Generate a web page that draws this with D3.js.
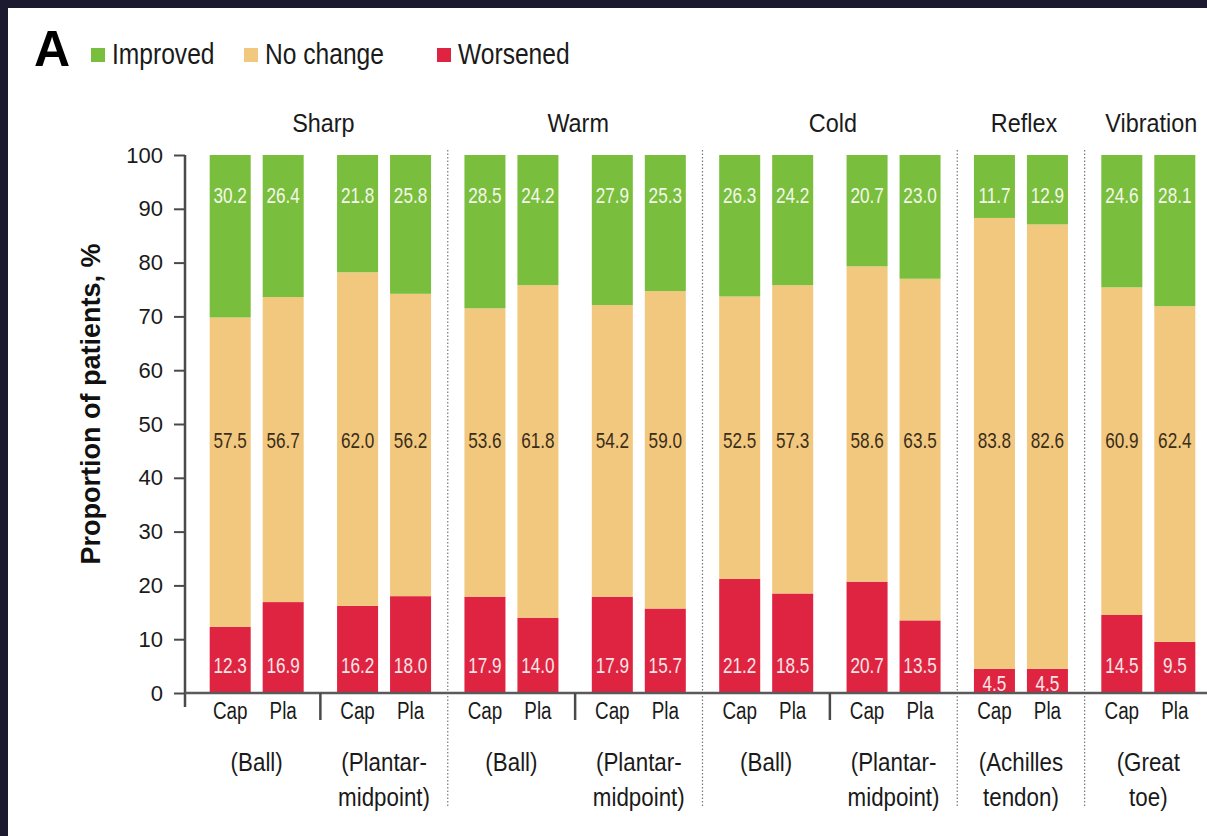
<!DOCTYPE html>
<html>
<head>
<meta charset="utf-8">
<script src="https://cdn.jsdelivr.net/npm/d3@7"></script>
<style>
  body { margin: 0; background: #1b1a2e; }
  svg { display: block; }
  text { font-family: "Liberation Sans", Arial, sans-serif; }
</style>
</head>
<body>
<svg id="chart" width="1207" height="836"></svg>
<script>
// categories
const groupNames = ["Sharp", "Warm", "Cold", "Reflex", "Vibration"];
const subgroupGroup = [0, 0, 1, 1, 2, 2, 3, 4];   // which group each site belongs to
const siteLabels = [
    ["(Ball)"], ["(Plantar-", "midpoint)"],
    ["(Ball)"], ["(Plantar-", "midpoint)"],
    ["(Ball)"], ["(Plantar-", "midpoint)"],
    ["(Achilles", "tendon)"], ["(Great", "toe)"]
];
const arms = ["Cap", "Pla"];

// series values, [Cap, Pla] per site
const improved = [[30.2, 26.4], [21.8, 25.8], [28.5, 24.2], [27.9, 25.3], [26.3, 24.2], [20.7, 23.0], [11.7, 12.9], [24.6, 28.1]];
const noChange = [[57.5, 56.7], [62.0, 56.2], [53.6, 61.8], [54.2, 59.0], [52.5, 57.3], [58.6, 63.5], [83.8, 82.6], [60.9, 62.4]];
const worsened = [[12.3, 16.9], [16.2, 18.0], [17.9, 14.0], [17.9, 15.7], [21.2, 18.5], [20.7, 13.5], [4.5, 4.5], [14.5, 9.5]];

const yTicks = [0, 10, 20, 30, 40, 50, 60, 70, 80, 90, 100];

const keys = ["worsened", "noChange", "improved"];
const legendKeys = ["improved", "noChange", "worsened"];
const legendNames = { improved: "Improved", noChange: "No change", worsened: "Worsened" };
const colors = { improved: "#79bf3d", noChange: "#f2c87e", worsened: "#df2442" };

// flatten to one row per bar
const rows = [];
siteLabels.forEach((s, i) => {
    arms.forEach((arm, j) => {
        rows.push({ site: i, arm: arm, improved: improved[i][j], noChange: noChange[i][j], worsened: worsened[i][j] });
    });
});

const W = 1207, H = 836;
const svg = d3.select("#chart");

// no narrow font installed, so squeeze Liberation Sans horizontally
const squeeze = (x, y, sx) => `translate(${x},${y}) scale(${sx},1)`;

// white panel inside the dark frame
svg.append("rect").attr("x", 8).attr("y", 8).attr("width", W - 8).attr("height", H - 8).attr("fill", "#fff");

const y = d3.scaleLinear().domain([0, 100]).range([693, 155]);
const x0 = d3.scaleBand().domain(d3.range(siteLabels.length)).range([193, 1212]);
const bw = x0.bandwidth();
const x1 = d3.scaleBand().domain(arms).range([bw * 0.131, bw * 0.869]).paddingInner(0.226);
const barX = d => x0(d.site) + x1(d.arm);
const barMid = d => barX(d) + x1.bandwidth() / 2;

// dotted separators between test groups
const groupBreaks = d3.range(1, siteLabels.length).filter(i => subgroupGroup[i] !== subgroupGroup[i - 1]);
svg.append("g").selectAll("line").data(groupBreaks).join("line")
    .attr("x1", i => x0(i)).attr("x2", i => x0(i))
    .attr("y1", y(100) - 5).attr("y2", 808)
    .attr("stroke", "#777").attr("stroke-width", 1.2).attr("stroke-dasharray", "1.5,2");

// stacked bars
const stack = d3.stack().keys(keys)(rows);
svg.append("g").selectAll("g").data(stack).join("g")
    .attr("fill", s => colors[s.key])
    .selectAll("rect").data(s => s).join("rect")
    .attr("x", d => barX(d.data))
    .attr("width", x1.bandwidth())
    .attr("y", d => y(d[1]))
    .attr("height", d => y(d[0]) - y(d[1]));

// value labels
const labelG = svg.append("g").attr("font-size", 22).attr("text-anchor", "middle");
rows.forEach(r => {
    const cx = barMid(r);
    labelG.append("text").attr("transform", squeeze(cx, y(91.1), 0.78))
        .attr("fill", "#f4f7ea").text(r.improved.toFixed(1));
    labelG.append("text").attr("transform", squeeze(cx, y(45.5), 0.78))
        .attr("fill", "#3a2e1a").text(r.noChange.toFixed(1));
    labelG.append("text").attr("transform", squeeze(cx, r.worsened < 5 ? y(0.3) : y(3.7), 0.78))
        .attr("fill", "#f7e6e8").text(r.worsened.toFixed(1));
});

// y axis
const yAxis = svg.append("g").attr("transform", "translate(185,0)")
    .call(d3.axisLeft(y).tickValues(yTicks).tickSize(11).tickSizeOuter(0).tickPadding(11));
yAxis.select(".domain").remove();
yAxis.append("line").attr("y1", y(100)).attr("y2", y(0) + 14).attr("stroke", "#4a4a4a").attr("stroke-width", 2.5);
yAxis.selectAll(".tick line").attr("stroke", "#4a4a4a").attr("stroke-width", 2);
yAxis.selectAll(".tick text")
    .attr("font-family", "'Liberation Sans', Arial, sans-serif")
    .attr("font-size", 22).attr("fill", "#1a1a1a");

// x baseline
svg.append("line").attr("x1", 185).attr("x2", W).attr("y1", y(0)).attr("y2", y(0))
    .attr("stroke", "#5a5a5a").attr("stroke-width", 2.5);

// solid ticks between sites of the same group
const siteBreaks = d3.range(1, siteLabels.length).filter(i => subgroupGroup[i] === subgroupGroup[i - 1]);
svg.append("g").selectAll("line").data(siteBreaks).join("line")
    .attr("x1", i => x0(i)).attr("x2", i => x0(i))
    .attr("y1", y(0)).attr("y2", y(0) + 27)
    .attr("stroke", "#4a4a4a").attr("stroke-width", 2.5);

// arm labels
svg.append("g").attr("font-size", 23).attr("text-anchor", "middle").attr("fill", "#1a1a1a")
    .selectAll("text").data(rows).join("text")
    .attr("transform", d => squeeze(barMid(d), 719, 0.82))
    .text(d => d.arm);

// site labels
const siteG = svg.append("g").attr("font-size", 26).attr("text-anchor", "middle").attr("fill", "#1a1a1a");
siteLabels.forEach((lines, i) => {
    const t = siteG.append("text").attr("transform", squeeze(x0(i) + bw / 2, 771, 0.86));
    lines.forEach((l, k) => t.append("tspan").attr("x", 0).attr("dy", k ? 35 : 0).text(l));
});

// group titles
svg.append("g").attr("font-size", 26).attr("text-anchor", "middle").attr("fill", "#1a1a1a")
    .selectAll("text").data(groupNames).join("text")
    .attr("transform", (g, gi) => {
        const idx = d3.range(siteLabels.length).filter(i => subgroupGroup[i] === gi);
        return squeeze(d3.mean(idx, i => x0(i) + bw / 2) + 3, 132, 0.9);
    })
    .text(g => g);

// y title
svg.append("text")
    .attr("transform", `translate(100,${(y(0) + y(100)) / 2 - 20}) rotate(-90)`)
    .attr("text-anchor", "middle").attr("font-size", 27).attr("font-weight", "bold").attr("fill", "#111")
    .text("Proportion of patients, %");

// panel letter
svg.append("text").attr("x", 34).attr("y", 66)
    .attr("font-weight", "bold").attr("font-size", 50).attr("fill", "#000").text("A");

// legend
const legendX = { improved: 91, noChange: 244, worsened: 437 };
const leg = svg.append("g").attr("font-size", 30).attr("fill", "#1a1a1a");
legendKeys.forEach(k => {
    leg.append("rect").attr("x", legendX[k]).attr("y", 48).attr("width", 14).attr("height", 14).attr("fill", colors[k]);
    leg.append("text").attr("transform", squeeze(legendX[k] + 21, 64, 0.82)).text(legendNames[k]);
});
</script>
</body>
</html>
